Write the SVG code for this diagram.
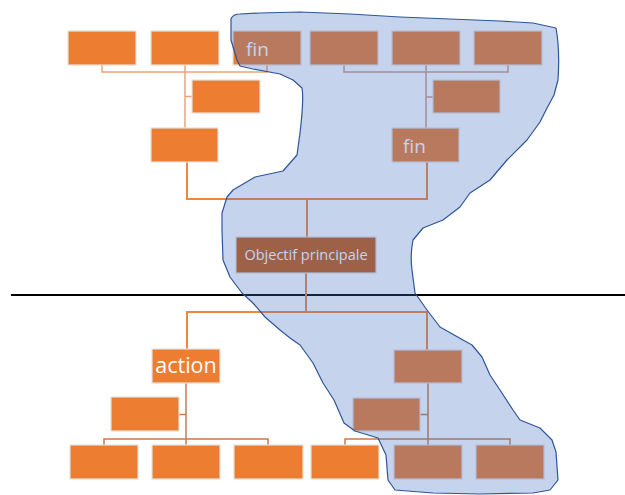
<svg xmlns="http://www.w3.org/2000/svg" width="625" height="495" viewBox="0 0 625 495">
  <style>
    .box { fill: #ED7D31; stroke: #E2E2E2; stroke-width: 1.2; }
    .box-dark { fill: #C55A11; stroke: #E2E2E2; stroke-width: 1.2; }
    .lbl { fill: #FFFFFF; font-family: "Open Sans", "Noto Sans", sans-serif; }
    .c-light { fill: none; stroke: #EDA47A; stroke-width: 1.5; }
    .c-soft { fill: none; stroke: #CF9A86; stroke-width: 1.5; }
    .c-main { fill: none; stroke: #EE873F; stroke-width: 2; }
    .c-sub { fill: none; stroke: #C97B4A; stroke-width: 1.5; }
  </style>

  <rect x="0" y="0" width="625" height="495" fill="#FFFFFF"/>

  <!-- divider between ends and means -->
  <line id="divider" x1="11" y1="295" x2="625" y2="295" stroke="#000000" stroke-width="2.2"/>

  <g id="connectors">
    <!-- upper left tree -->
    <path class="c-light" d="M102,65 V72 H267 V65"/>
    <path class="c-light" d="M185,65 V128"/>
    <path class="c-light" d="M185,96.5 H192"/>
    <!-- upper right tree -->
    <path class="c-soft" d="M344,65 V72 H508 V65"/>
    <path class="c-soft" d="M426,65 V128"/>
    <path class="c-soft" d="M426,97 H433"/>
    <!-- trunk -->
    <path class="c-main" d="M187,162 V199 H427 V162"/>
    <path class="c-main" d="M307,199 V237"/>
    <path class="c-main" d="M306,273 V312"/>
    <path class="c-main" d="M187,349 V312 H427 V350"/>
    <!-- lower left tree -->
    <path class="c-sub" d="M186,383 V445"/>
    <path class="c-sub" d="M179,414.5 H186"/>
    <path class="c-sub" d="M104,445 V439 H268 V445"/>
    <!-- lower right tree -->
    <path class="c-sub" d="M428,383 V445"/>
    <path class="c-sub" d="M420,414.5 H428"/>
    <path class="c-sub" d="M345,445 V439 H510 V445"/>
  </g>

  <!-- upper row -->
  <g id="top-1"><rect class="box" x="68" y="31" width="68" height="34"/></g>
  <g id="top-2"><rect class="box" x="151" y="31" width="68" height="34"/></g>
  <g id="top-3"><rect class="box" x="233" y="31" width="68" height="34"/><text class="lbl" x="246" y="56" font-size="19">fin</text></g>
  <g id="top-4"><rect class="box" x="310" y="31" width="68" height="34"/></g>
  <g id="top-5"><rect class="box" x="392" y="31" width="68" height="34"/></g>
  <g id="top-6"><rect class="box" x="474" y="31" width="68" height="34"/></g>

  <!-- second level, upper -->
  <g id="top-left-assistant"><rect class="box" x="192" y="80" width="68" height="33"/></g>
  <g id="top-left-mid"><rect class="box" x="151" y="128" width="67" height="34"/></g>
  <g id="top-right-assistant"><rect class="box" x="433" y="80" width="67" height="33"/></g>
  <g id="top-right-mid"><rect class="box" x="392" y="128" width="67" height="34"/><text class="lbl" x="403" y="153" font-size="19">fin</text></g>

  <!-- main goal -->
  <g id="goal"><rect class="box-dark" x="236" y="237" width="140" height="36"/><text class="lbl" x="306" y="260" font-size="14.5" text-anchor="middle">Objectif principale</text></g>

  <!-- lower second level -->
  <g id="action"><rect class="box" x="152" y="349" width="68" height="34"/><text class="lbl" x="186" y="373" font-size="21.5" text-anchor="middle">action</text></g>
  <g id="low-right-mid"><rect class="box" x="394" y="350" width="68" height="33"/></g>
  <g id="low-left-assistant"><rect class="box" x="111" y="397" width="68" height="34"/></g>
  <g id="low-right-assistant"><rect class="box" x="353" y="398" width="67" height="33"/></g>

  <!-- lower row -->
  <g id="low-1"><rect class="box" x="70" y="445" width="68" height="34"/></g>
  <g id="low-2"><rect class="box" x="152" y="445" width="68" height="34"/></g>
  <g id="low-3"><rect class="box" x="234" y="445" width="69" height="34"/></g>
  <g id="low-4"><rect class="box" x="311" y="445" width="68" height="34"/></g>
  <g id="low-5"><rect class="box" x="394" y="445" width="68" height="34"/></g>
  <g id="low-6"><rect class="box" x="476" y="445" width="68" height="34"/></g>

  <!-- translucent highlight region -->
  <g id="highlight">
    <path fill="#4472C4" fill-opacity="0.31" stroke="#2F5597" stroke-width="1.2" stroke-linejoin="round"
      d="M231,19 Q233,14 240,14 L260,13 L300,12 L350,14 L400,17 L450,19 L500,21 L533,23 L556,28
         Q560,50 558,80 L554,95 L546,110 L540,122 L527,140 L507,160 L490,180 L470,193 L460,207 L443,220
         L423,228 L413,240 Q410,255 412,270 L415,293 L427,310 L440,327 L463,340 L472,345 L482,357 L490,375
         L500,390 L513,410 L520,420 L540,428 L552,440 L556,452 L558,480 L550,490 L533,493 L480,494
         L433,493 L395,490 L388,480 L386,455 L378,438 L355,431 L344,423 L334,400 L323,383 L313,363
         L300,345 L290,338 L280,330 L265,317 L253,303 L242,293 L230,277 L223,260 L222,230 L222,213
         L227,197 L233,190 L255,177 L283,171 L297,155 L300,133 Q304,100 302,88 L293,80 L280,74
         L253,69 L240,66 L237,60 L234,50 L231,40 Z"/>
  </g>
</svg>
